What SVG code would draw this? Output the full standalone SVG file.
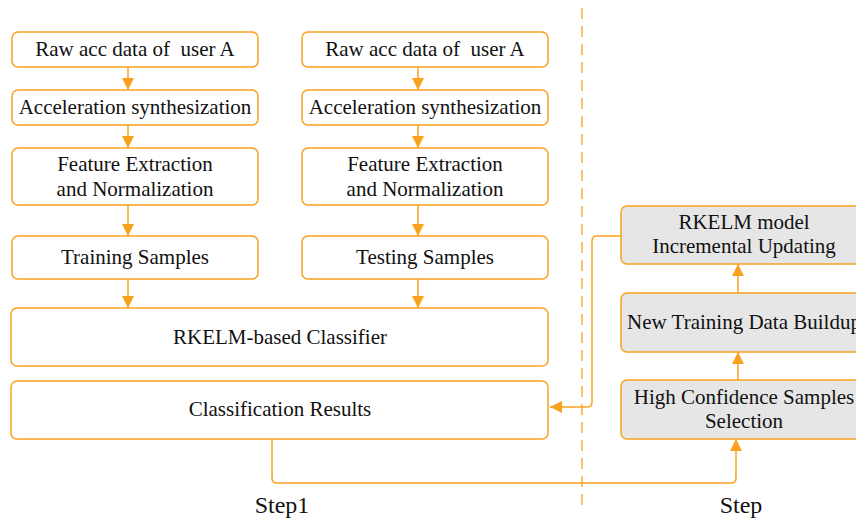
<svg xmlns="http://www.w3.org/2000/svg" width="856" height="520" viewBox="0 0 856 520">
<defs>
<style>
.box{fill:#fff;stroke:#F9A21E;stroke-width:1.5}
.gbox{fill:#E6E6E6;stroke:#F9A21E;stroke-width:1.5}
.t{font-family:"Liberation Serif","Times New Roman",serif;font-size:21px;fill:#111;text-anchor:middle;white-space:pre}
.s{font-family:"Liberation Serif","Times New Roman",serif;font-size:24px;fill:#111;text-anchor:middle}
.c{fill:none;stroke:#F9A21E;stroke-width:1.5}
</style>
<marker id="ah" viewBox="0 0 12 12" refX="12" refY="6" markerWidth="12" markerHeight="12" markerUnits="userSpaceOnUse" orient="auto">
<path d="M0,0 L12,6 L0,12 z" fill="#F9A21E"/>
</marker>
</defs>
<rect width="856" height="520" fill="#fff"/>
<g id="connectors">
<line class="c" x1="128" y1="67" x2="128" y2="90" marker-end="url(#ah)"/>
<line class="c" x1="128" y1="125" x2="128" y2="148" marker-end="url(#ah)"/>
<line class="c" x1="128" y1="205" x2="128" y2="236" marker-end="url(#ah)"/>
<line class="c" x1="128" y1="279" x2="128" y2="308" marker-end="url(#ah)"/>
<line class="c" x1="418" y1="67" x2="418" y2="90" marker-end="url(#ah)"/>
<line class="c" x1="418" y1="125" x2="418" y2="148" marker-end="url(#ah)"/>
<line class="c" x1="418" y1="205" x2="418" y2="236" marker-end="url(#ah)"/>
<line class="c" x1="418" y1="279" x2="418" y2="308" marker-end="url(#ah)"/>
<line class="c" x1="738" y1="293" x2="738" y2="264" marker-end="url(#ah)"/>
<line class="c" x1="738" y1="380" x2="738" y2="352" marker-end="url(#ah)"/>
<path class="c" d="M621,236 H597 Q592,236 592,241 V402 Q592,407 587,407 H550" marker-end="url(#ah)"/>
<path class="c" d="M272,439 V478 Q272,483 277,483 H731 Q736,483 736,478 V439" marker-end="url(#ah)"/>
<line x1="582" y1="8" x2="582" y2="506" stroke="#F9A21E" stroke-width="1.5" stroke-dasharray="11,7" opacity="0.85"/>
</g>
<g id="n1"><rect class="box" x="12" y="32" width="246" height="35" rx="6"/><text class="t" x="135" y="56">Raw acc data of  user A</text></g>
<g id="n2"><rect class="box" x="12" y="90" width="246" height="35" rx="6"/><text class="t" x="135" y="114">Acceleration synthesization</text></g>
<g id="n3"><rect class="box" x="12" y="148" width="246" height="57" rx="6"/><text class="t" x="135" y="171">Feature Extraction</text><text class="t" x="135" y="196">and Normalization</text></g>
<g id="n4"><rect class="box" x="12" y="236" width="246" height="43" rx="6"/><text class="t" x="135" y="264">Training Samples</text></g>
<g id="m1"><rect class="box" x="302" y="32" width="246" height="35" rx="6"/><text class="t" x="425" y="56">Raw acc data of  user A</text></g>
<g id="m2"><rect class="box" x="302" y="90" width="246" height="35" rx="6"/><text class="t" x="425" y="114">Acceleration synthesization</text></g>
<g id="m3"><rect class="box" x="302" y="148" width="246" height="57" rx="6"/><text class="t" x="425" y="171">Feature Extraction</text><text class="t" x="425" y="196">and Normalization</text></g>
<g id="m4"><rect class="box" x="302" y="236" width="246" height="43" rx="6"/><text class="t" x="425" y="264">Testing Samples</text></g>
<g id="classifier"><rect class="box" x="11" y="308" width="537" height="58" rx="6"/><text class="t" x="280" y="344">RKELM-based Classifier</text></g>
<g id="results"><rect class="box" x="11" y="381" width="537" height="58" rx="6"/><text class="t" x="280" y="416">Classification Results</text></g>
<g id="update"><rect class="gbox" x="621" y="206" width="246" height="58" rx="6"/><text class="t" x="744" y="229">RKELM model</text><text class="t" x="744" y="253">Incremental Updating</text></g>
<g id="buildup"><rect class="gbox" x="621" y="293" width="246" height="59" rx="6"/><text class="t" x="744" y="329">New Training Data Buildup</text></g>
<g id="select"><rect class="gbox" x="621" y="380" width="246" height="59" rx="6"/><text class="t" x="744" y="404">High Confidence Samples</text><text class="t" x="744" y="428">Selection</text></g>
<text class="s" x="282" y="513">Step1</text>
<text class="s" x="741" y="513">Step</text>
</svg>
